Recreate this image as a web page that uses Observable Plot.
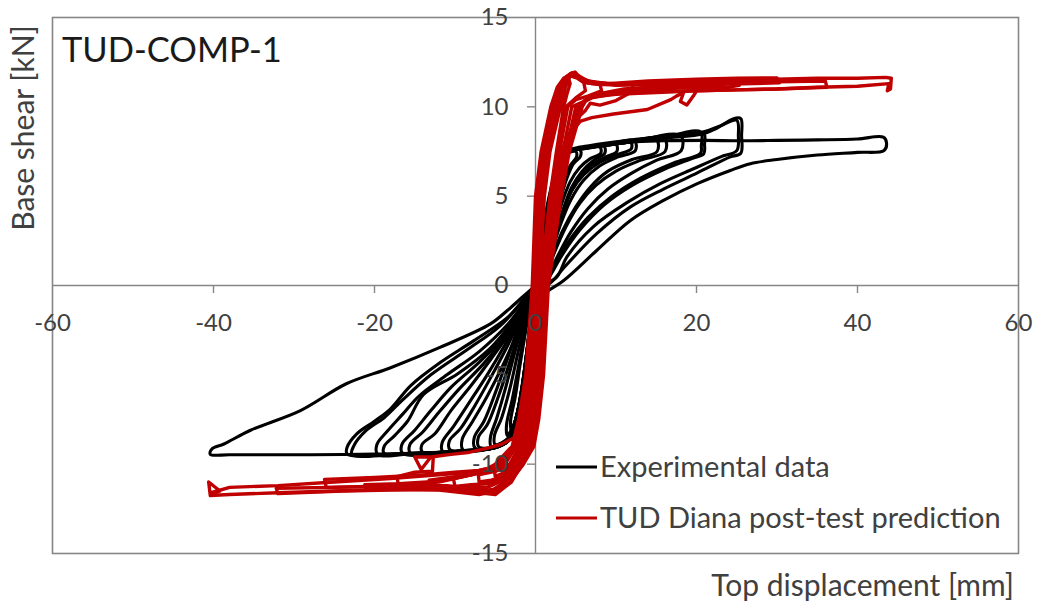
<!DOCTYPE html>
<html><head><meta charset="utf-8">
<script src="https://cdn.jsdelivr.net/npm/d3@7"></script>
<script src="https://cdn.jsdelivr.net/npm/@observablehq/plot@0.6"></script>
<style>
html,body{margin:0;padding:0;background:#fff}
#chart{width:1037px;height:607px}
</style>
</head><body><div id="chart"></div>
<script>
// ---- tick values
const xTicks = [-60, -40, -20, 0, 20, 40, 60];
const yTicks = [-15, -10, -5, 0, 5, 10, 15];

// ---- series
const seriesNames = ["Experimental data", "TUD Diana post-test prediction"];
const seriesColors = ["#000000", "#c00000"];

// ---- experimental cycles [top displacement mm, base shear kN]
const expA1 = [[0,0],[0.5,1.8],[1.1,3.6],[1.8,5.2],[2.5,6.3],[2.8,6.0],[2.3,4.5],[1.6,2.8],[0.9,1.2],[0.3,0],[-0.3,-1.4],[-0.8,-3.3],[-1.4,-5.3],[-2.1,-7.0],[-3,-8.1],[-3.1,-7.6],[-2.5,-6.2],[-1.9,-4.4],[-1.2,-2.5],[-0.6,-1],[0,0]];
const expA2 = [[0,0],[0.6,2],[1.3,3.9],[2,5.5],[2.8,6.6],[3.1,6.3],[2.5,4.8],[1.8,3.0],[1.0,1.3],[0.4,0.1],[-0.3,-1.5],[-0.9,-3.5],[-1.5,-5.5],[-2.3,-7.3],[-3.5,-8.4],[-3.6,-7.8],[-2.9,-6.4],[-2.1,-4.5],[-1.4,-2.7],[-0.7,-1.1],[0,0]];
const expB1 = [[0,0],[0.6,2],[1.4,4],[2.3,5.8],[3.2,7.0],[4,7.4],[5,7.5],[5.1,7.2],[4.3,6.7],[3.5,5.9],[2.8,4.7],[2.1,3.2],[1.4,1.7],[0.7,0.4],[0.3,0],[-0.4,-1.6],[-0.9,-3.6],[-1.5,-5.6],[-2.3,-7.3],[-3.3,-8.5],[-5,-8.9],[-5.1,-8.4],[-4.2,-7.4],[-3.2,-5.8],[-2.2,-3.8],[-1.3,-2],[-0.6,-0.7],[0,0]];
const expB2 = [[0,0],[0.7,2.1],[1.5,4.1],[2.4,5.9],[3.3,7.1],[4.1,7.5],[5.5,7.6],[5.6,7.25],[4.7,6.8],[3.9,6.0],[3.1,4.8],[2.4,3.3],[1.6,1.8],[0.8,0.4],[0.4,-0.2],[-0.4,-1.7],[-1.0,-3.7],[-1.6,-5.7],[-2.4,-7.4],[-3.4,-8.6],[-5.5,-9.0],[-5.6,-8.5],[-4.8,-7.4],[-3.7,-5.7],[-2.6,-3.8],[-1.5,-2],[-0.7,-0.7],[0,0]];
const expC1 = [[0,0],[0.6,2],[1.4,4],[2.3,5.9],[3.2,7.1],[4,7.5],[6,7.65],[8,7.75],[8.1,7.4],[6.8,7.1],[5.5,6.6],[4.3,5.8],[3.2,4.5],[2.3,3.0],[1.4,1.4],[0.6,0.2],[0.3,-0.2],[-0.4,-1.7],[-1,-3.7],[-1.6,-5.7],[-2.3,-7.3],[-3.3,-8.6],[-5,-9.0],[-7,-9.05],[-7.1,-8.5],[-6,-7.8],[-4.6,-6.2],[-3.2,-4.3],[-2,-2.5],[-1,-1.1],[0,0]];
const expC2 = [[0,0],[0.7,2.1],[1.5,4.1],[2.4,6],[3.3,7.2],[4.1,7.55],[6,7.7],[8.5,7.8],[8.6,7.4],[7.2,7.0],[5.8,6.4],[4.5,5.5],[3.4,4.2],[2.4,2.7],[1.5,1.2],[0.7,0.1],[0.4,-0.2],[-0.5,-1.8],[-1.1,-3.8],[-1.7,-5.8],[-2.4,-7.4],[-3.4,-8.7],[-5.2,-9.05],[-7.5,-9.1],[-7.6,-8.5],[-6.4,-7.6],[-4.9,-5.9],[-3.4,-4.0],[-2.1,-2.3],[-1,-1],[0,0]];
const expX1 = [[0,0],[0.6,2],[1.4,4],[2.3,5.9],[3.2,7.1],[4,7.5],[7,7.75],[10,7.9],[10.1,7.5],[8.5,7.15],[6.8,6.7],[5.2,5.9],[3.9,4.7],[2.8,3.2],[1.8,1.7],[0.8,0.3],[0.3,-0.2],[-0.4,-1.7],[-1,-3.7],[-1.6,-5.7],[-2.3,-7.3],[-3.3,-8.6],[-5,-9.05],[-9,-9.2],[-9.1,-8.6],[-7.8,-7.6],[-6,-6.2],[-4.2,-4.6],[-2.6,-3.0],[-1.3,-1.4],[0,0]];
const expD1 = [[0,0],[0.6,2],[1.4,4],[2.3,5.9],[3.2,7.1],[3.9,7.47],[6,7.65],[9,7.85],[11.8,8.03],[11.9,7.65],[10,7.3],[8,6.9],[6,6.2],[4.5,5.3],[3.3,4.0],[2.3,2.5],[1.2,0.8],[0.4,-0.2],[-0.4,-1.7],[-1,-3.7],[-1.6,-5.6],[-2.3,-7.3],[-3.3,-8.6],[-5,-9.05],[-8,-9.2],[-10.6,-9.2],[-10.7,-8.7],[-9.3,-8.0],[-7.5,-6.7],[-5.5,-5.1],[-3.5,-3.4],[-1.8,-1.8],[-0.8,-0.8],[0,0]];
const expD2 = [[0,0],[0.7,2.1],[1.5,4.1],[2.4,6],[3.3,7.2],[4,7.5],[6,7.7],[9,7.9],[12.3,8.1],[12.4,7.55],[10,7.15],[8,6.7],[6,5.9],[4.4,4.8],[3.1,3.4],[2,1.9],[0.9,0.4],[0.5,-0.2],[-0.5,-1.8],[-1.1,-3.8],[-1.7,-5.7],[-2.4,-7.4],[-3.4,-8.7],[-5.2,-9.1],[-8.5,-9.25],[-11.5,-9.3],[-11.6,-8.8],[-10.2,-7.9],[-8.3,-6.6],[-6,-5.0],[-3.9,-3.4],[-2,-1.8],[-0.8,-0.7],[0,0]];
const expE1 = [[0,0],[0.6,2],[1.4,4],[2.3,5.9],[3.2,7.1],[3.9,7.47],[7,7.75],[11.8,8.03],[16,8.25],[16.1,7.5],[13,7.0],[10,6.4],[7.5,5.6],[5.5,4.6],[3.8,3.3],[2.4,1.9],[1.2,0.5],[0.4,-0.2],[-0.4,-1.7],[-1,-3.7],[-1.6,-5.7],[-2.3,-7.3],[-3.3,-8.6],[-5,-9.05],[-9,-9.25],[-14,-9.35],[-14.1,-8.9],[-12.5,-8.3],[-10.5,-7.0],[-8,-5.6],[-5.5,-4.1],[-3,-2.5],[-1.2,-1.0],[0,0]];
const expE2 = [[0,0],[0.7,2.1],[1.5,4.1],[2.4,6],[3.3,7.2],[4,7.5],[7,7.8],[11,8.0],[15,8.2],[15.1,7.5],[12,7.05],[9,6.4],[6.8,5.5],[5,4.4],[3.4,3.1],[2.2,1.8],[1.0,0.5],[0.5,-0.1],[-0.5,-1.8],[-1.1,-3.8],[-1.7,-5.8],[-2.4,-7.4],[-3.4,-8.7],[-5.2,-9.1],[-10,-9.3],[-15.5,-9.4],[-15.6,-8.9],[-14,-8.2],[-12,-7.1],[-9.5,-5.8],[-6.5,-4.4],[-3.8,-2.9],[-1.6,-1.3],[0,0]];
const expX2 = [[0,0],[0.6,2],[1.4,4],[2.3,5.9],[3.2,7.1],[3.9,7.47],[7,7.75],[12,8.05],[18,8.4],[18.1,7.55],[15,7.0],[12,6.3],[9,5.4],[6.5,4.3],[4.4,3.0],[2.7,1.6],[1.3,0.3],[0.4,-0.2],[-0.4,-1.7],[-1,-3.7],[-1.6,-5.7],[-2.3,-7.3],[-3.3,-8.6],[-5,-9.05],[-10,-9.3],[-16.5,-9.4],[-16.6,-8.9],[-15,-8.1],[-13,-7.0],[-10.5,-5.7],[-7,-4.3],[-4,-2.9],[-1.8,-1.3],[0,0]];
const expF1 = [[0,0],[0.6,2],[1.4,4],[2.3,5.9],[3.2,7.1],[3.9,7.47],[7,7.75],[11.8,8.03],[16,8.25],[20.9,8.5],[21,7.9],[20.9,7.37],[19.7,7.15],[16,6.5],[12,5.6],[8.5,4.5],[5.5,3.1],[3.3,1.7],[1.6,0.4],[0.5,-0.2],[-0.4,-1.7],[-1,-3.7],[-1.6,-5.7],[-2.3,-7.3],[-3.3,-8.6],[-5,-9.05],[-10,-9.3],[-15,-9.4],[-18.8,-9.4],[-18.8,-9.0],[-17.5,-8.4],[-15.9,-7.6],[-13.9,-6.1],[-9.7,-4.95],[-5.6,-3.5],[-3,-2.1],[-1.3,-0.9],[0,0]];
const expF2 = [[0,0],[0.7,2.1],[1.5,4.1],[2.4,6],[3.3,7.2],[4,7.5],[7,7.8],[12,8.1],[16,8.3],[20.5,8.6],[20.6,7.8],[20.5,7.4],[17.1,6.85],[13,6.0],[9.5,5.0],[6.5,3.8],[4,2.4],[2.2,1.1],[0.9,0.1],[0.4,-0.2],[-0.5,-1.8],[-1.1,-3.8],[-1.7,-5.8],[-2.4,-7.4],[-3.4,-8.7],[-5.2,-9.1],[-10,-9.3],[-15,-9.4],[-19.6,-9.45],[-19.7,-8.9],[-18.5,-8.2],[-16.5,-7.2],[-14.5,-6.2],[-11,-5.0],[-7,-3.7],[-3.5,-2.2],[-1.3,-0.9],[0,0]];
const expG1 = [[0,0],[0.6,2],[1.4,4],[2.3,5.9],[3.2,7.1],[3.9,7.47],[7,7.75],[11.8,8.03],[16,8.25],[20.9,8.5],[22.5,8.8],[24.6,9.34],[25.5,9.34],[25.6,8.4],[25.5,7.4],[24.2,7.2],[20.1,6.3],[15.9,5.4],[11.8,4.4],[7.6,2.9],[3.5,0.98],[2,0.2],[0.5,-0.3],[-0.4,-1.7],[-1,-3.7],[-1.6,-5.7],[-2.3,-7.3],[-3.3,-8.6],[-5,-9.05],[-10,-9.3],[-16,-9.4],[-23.4,-9.43],[-23.4,-9.05],[-22.2,-8.3],[-20,-7.6],[-18,-6.9],[-15.5,-5.6],[-11.8,-4.3],[-7.7,-3.1],[-3.5,-1.8],[-1.5,-0.8],[0,0]];
const expG2 = [[0,0],[0.7,2.1],[1.5,4.1],[2.4,6],[3.3,7.2],[4,7.55],[7,7.85],[12,8.15],[16,8.35],[20.9,8.6],[23,8.95],[25,9.25],[25.2,8.4],[25,7.55],[23,7.2],[19.7,6.55],[15.5,5.7],[11.4,4.65],[7.2,3.3],[3.9,1.6],[2.7,0.5],[0.6,-0.2],[-0.5,-1.8],[-1.1,-3.8],[-1.7,-5.8],[-2.4,-7.4],[-3.4,-8.7],[-5.2,-9.1],[-10,-9.3],[-16,-9.4],[-22.8,-9.45],[-22.6,-9.0],[-21,-8.1],[-18.8,-7.4],[-16.5,-6.4],[-13,-5.0],[-8.5,-3.6],[-4.5,-2.3],[-1.8,-1.0],[0,0]];
const expH = [[0,0],[0.6,2],[1.4,4],[2.3,5.9],[3.2,7.1],[3.9,7.47],[7,7.75],[11.8,8.03],[16,8.1],[20.9,8.12],[25.5,8.1],[30,8.12],[35,8.15],[40,8.2],[43.2,8.3],[43.6,8.0],[43.3,7.56],[40,7.45],[35,7.3],[30,7.05],[26.7,6.82],[24.2,6.44],[20.1,5.7],[15.9,4.76],[11.8,3.64],[7.6,1.96],[3.5,0.28],[1.5,-0.3],[0.3,-0.6],[-0.4,-1.7],[-1,-3.7],[-1.6,-5.7],[-2.3,-7.3],[-3.3,-8.6],[-5,-9.05],[-10,-9.3],[-20,-9.43],[-30,-9.47],[-38,-9.47],[-40.4,-9.45],[-40.2,-9.15],[-38.7,-8.87],[-35.4,-8.1],[-29.2,-7.0],[-23.5,-5.5],[-18,-4.6],[-11.8,-3.45],[-5.6,-2.15],[-3.5,-1.4],[-1.5,-0.6],[0,0]];

// ---- numerical (TUD Diana) cycles [top displacement mm, base shear kN]
const numA = [[0.6,0],[0.8,2.5],[1.1,5],[1.8,7.5],[3.1,10],[3.7,11.1],[4.1,11.6],[4.3,11.3],[3.9,10.7],[3.5,10],[2.6,7.5],[1.8,5],[1.2,2.5],[0.5,0],[0.2,-2.5],[-0.2,-5],[-0.8,-7.5],[-1.5,-9],[-3,-10],[-3.5,-10.3],[-3.6,-10.1],[-2,-10],[-1.2,-9],[-0.5,-7.5],[0,-5],[0.3,-2.5],[0.6,0]];
const numB = [[0.5,0],[0.7,2.5],[0.95,5],[1.7,7.5],[3.0,10],[3.6,11.1],[4.3,11.75],[5.2,11.6],[6,11.35],[6.2,10.9],[5,10.5],[3.8,10],[2.8,7.5],[2.0,5],[1.35,2.5],[0.65,0],[0.35,-2.5],[-0.05,-5],[-0.65,-7.5],[-1.35,-9],[-2.8,-10],[-4,-10.5],[-5,-10.7],[-5.1,-10.3],[-3.5,-10.1],[-2.3,-10],[-1.4,-9],[-0.65,-7.5],[-0.15,-5],[0.2,-2.5],[0.5,0]];
const numC = [[0.35,0],[0.55,2.5],[0.85,5],[1.55,7.5],[2.85,10],[3.5,11.1],[4.4,11.8],[5.3,11.65],[6.5,11.35],[8,11.3],[8.2,10.9],[6.5,10.6],[5,10.4],[4.0,10],[3.0,7.5],[2.15,5],[1.5,2.5],[0.8,0],[0.5,-2.5],[0.1,-5],[-0.5,-7.5],[-1.2,-9],[-2.6,-10],[-4,-10.7],[-5.5,-10.9],[-7,-11],[-7.1,-10.6],[-5,-10.4],[-2.6,-10],[-1.6,-9],[-0.85,-7.5],[-0.3,-5],[0.05,-2.5],[0.35,0]];
const numD = [[0.25,0],[0.45,2.5],[0.7,5],[1.45,7.5],[2.7,10],[3.4,11.1],[4.5,11.85],[5.3,11.7],[6.3,11.35],[8,11.25],[10,11.25],[12,11.35],[12.2,10.9],[10,10.35],[8,10.1],[6.8,10.2],[6.2,9.8],[5.5,9.5],[4.3,8.6],[3.2,7.5],[2.3,5],[1.6,2.5],[0.9,0],[0.6,-2.5],[0.25,-5],[-0.35,-7.5],[-1.05,-9],[-2.4,-10],[-4,-10.8],[-6,-11.1],[-8,-11.15],[-10,-11.25],[-10.2,-10.8],[-8,-10.6],[-5,-10.3],[-2.9,-10],[-1.8,-9],[-1.0,-7.5],[-0.4,-5],[-0.05,-2.5],[0.25,0]];
const numE = [[0.1,0],[0.35,2.5],[0.6,5],[1.3,7.5],[2.6,10],[3.3,11.1],[4.2,11.7],[4.9,11.85],[5.6,11.55],[7,11.3],[10,11.25],[13,11.35],[16,11.45],[16.2,11],[13,10.85],[10,10.75],[7,10.5],[5.5,10.2],[4.5,10],[3.4,7.5],[2.45,5],[1.75,2.5],[1.0,0],[0.75,-2.5],[0.4,-5],[-0.2,-7.5],[-0.9,-9],[-2.2,-10],[-4,-10.9],[-6,-11.3],[-9,-11.3],[-13,-11.4],[-13.2,-10.9],[-10,-10.7],[-7,-10.5],[-4.5,-10.2],[-3.2,-10],[-2.0,-9],[-1.2,-7.5],[-0.55,-5],[-0.2,-2.5],[0.1,0]];
const numF = [[0,0],[0.25,2.5],[0.5,5],[1.2,7.5],[2.45,10],[3.2,11.1],[4.2,11.75],[5.2,11.65],[6.5,11.35],[9,11.25],[12,11.3],[16,11.45],[20,11.5],[20.3,11.1],[19.6,10.6],[18.8,10.1],[18,10.3],[18.4,10.8],[17.5,10.6],[16.8,10.4],[13.9,9.85],[9.7,9.6],[7,9.4],[5.6,9.2],[4.8,8.8],[4.3,8.3],[3.6,7.5],[2.6,5],[1.9,2.5],[1.1,0],[0.85,-2.5],[0.5,-5],[-0.05,-7.5],[-0.8,-9],[-2.0,-10],[-3.5,-10.9],[-5.5,-11.5],[-8,-11.4],[-11,-11.2],[-14,-11.2],[-17,-11.3],[-17.2,-10.7],[-15,-10.45],[-12.8,-10.4],[-12.7,-9.6],[-15,-9.6],[-14.2,-10.3],[-13,-9.6],[-10.5,-9.45],[-8.4,-9.35],[-6,-9.1],[-4.3,-8.9],[-3,-8.6],[-2.2,-8.4],[-1.35,-7.5],[-0.7,-5],[-0.3,-2.5],[0,0]];
const numG = [[-0.1,0],[0.1,2.5],[0.35,5],[1.05,7.5],[2.3,10],[3.0,11.1],[3.9,11.7],[4.7,11.9],[5.5,11.6],[7,11.35],[10,11.3],[15,11.35],[20,11.4],[25,11.45],[25.3,11.2],[24,11.1],[18,11.05],[12,10.95],[8,10.75],[6.2,10.35],[5.0,10],[3.75,7.5],[2.75,5],[2.0,2.5],[1.2,0],[0.95,-2.5],[0.6,-5],[0.05,-7.5],[-0.65,-9],[-1.9,-10],[-3.5,-11],[-5.5,-11.6],[-7.5,-11.5],[-12,-11.3],[-17,-11.35],[-21,-11.45],[-21.2,-11.15],[-17,-11.1],[-12,-10.95],[-8,-10.6],[-5.5,-10.2],[-3.8,-10],[-2.35,-9],[-1.5,-7.5],[-0.8,-5],[-0.45,-2.5],[-0.1,0]];
const numH = [[-0.2,0],[0,2.5],[0.25,5],[0.95,7.5],[2.15,10],[2.9,11.1],[3.8,11.65],[4.5,11.9],[5.3,11.75],[6.5,11.45],[9,11.3],[14,11.45],[20,11.55],[25,11.6],[30,11.62],[30.3,11.35],[27,11.3],[22,11.25],[16,11.15],[11,11.0],[7.5,10.7],[6,10.3],[5.3,10],[3.9,7.5],[2.9,5],[2.15,2.5],[1.3,0],[1.05,-2.5],[0.75,-5],[0.2,-7.5],[-0.5,-9],[-1.7,-10],[-3,-11],[-5,-11.7],[-7,-11.6],[-10,-11.25],[-15,-11.2],[-20,-11.25],[-26,-11.3],[-26.2,-10.85],[-20,-10.75],[-14,-10.6],[-10,-10.45],[-7,-10.35],[-5.5,-10.2],[-4.2,-10],[-2.5,-9],[-1.7,-7.5],[-0.95,-5],[-0.55,-2.5],[-0.2,0]];
const numI = [[-0.3,0],[-0.1,2.5],[0.1,5],[0.8,7.5],[2.0,10],[2.8,11.1],[3.6,11.6],[4.3,11.85],[4.9,11.95],[5.6,11.6],[7,11.4],[10,11.2],[15,11.25],[20,11.3],[25,11.35],[30,11.4],[36,11.45],[36.2,11.1],[30,11.0],[25,10.95],[20,10.9],[15,10.85],[10,10.75],[7,10.6],[6,10.3],[5.5,10],[4.05,7.5],[3.05,5],[2.25,2.5],[1.45,0],[1.2,-2.5],[0.9,-5],[0.3,-7.5],[-0.35,-9],[-1.6,-10],[-3,-10.9],[-5,-11.4],[-7,-11.5],[-12,-11.4],[-18,-11.45],[-24,-11.5],[-32,-11.65],[-32.2,-11.35],[-25,-11.3],[-18,-11.2],[-12,-11.0],[-8,-10.6],[-6,-10.3],[-4.6,-10],[-2.7,-9],[-1.9,-7.5],[-1.1,-5],[-0.7,-2.5],[-0.3,0]];
const numJ = [[-0.4,0],[-0.2,2.5],[0,5],[0.7,7.5],[1.9,10],[2.7,11.1],[3.5,11.6],[4.3,11.8],[5.2,11.7],[6.5,11.4],[10,11.25],[15,11.35],[20,11.45],[25,11.5],[30,11.55],[35,11.6],[40,11.6],[43.5,11.65],[44.2,11.6],[44.1,11.0],[43.7,10.9],[43.9,11.3],[40,11.15],[35,11.1],[30,11.0],[25,10.95],[20,10.9],[15,10.8],[10,10.7],[7,10.55],[6.2,10.3],[5.8,10],[4.2,7.5],[3.2,5],[2.4,2.5],[1.6,0],[1.3,-2.5],[1.0,-5],[0.4,-7.5],[-0.2,-9],[-1.5,-10],[-3,-10.9],[-5,-11.5],[-7,-11.7],[-12,-11.45],[-18,-11.4],[-25,-11.5],[-32,-11.6],[-38,-11.7],[-40.4,-11.75],[-40.6,-11.0],[-39.2,-11.5],[-40.3,-11.6],[-38,-11.3],[-32,-11.2],[-25,-11.0],[-18,-10.8],[-12,-10.6],[-8,-10.45],[-6,-10.25],[-5,-10],[-2.9,-9],[-2.1,-7.5],[-1.2,-5],[-0.8,-2.5],[-0.4,0]];

const expCycles = [expA1, expA2, expB1, expB2, expC1, expC2, expX1, expD1, expD2, expE1, expE2, expX2, expF1, expF2, expG1, expG2, expH];
const numCycles = [numA, numB, numC, numD, numE, numF, numG, numH, numI, numJ];

function toRows(cycles, series, tag) {
  return cycles.flatMap((c, k) => c.map(([x, y]) => ({x, y, series, cycle: tag + k})));
}
const expRows = toRows(expCycles, seriesNames[0], "e");
const numRows = toRows(numCycles, seriesNames[1], "n");

const FONT = "Lato, 'Noto Sans', sans-serif";
const AXIS = "#868686";
const TXT = "#404040";

const plot = Plot.plot({
  width: 1037, height: 607,
  marginLeft: 52, marginRight: 19, marginTop: 17, marginBottom: 54,
  style: {fontFamily: FONT, background: "#ffffff", overflow: "visible"},
  x: {domain: [-60, 60], axis: null},
  y: {domain: [-15, 15], axis: null},
  color: {domain: seriesNames, range: seriesColors},
  marks: [
    Plot.ruleY([0], {stroke: AXIS, strokeWidth: 1.4}),
    Plot.ruleX([0], {stroke: AXIS, strokeWidth: 1.4}),
    Plot.ruleX(xTicks.filter(d => d !== 0 && Math.abs(d) !== 60), {x: d => d, y1: 0, y2: 0, insetBottom: -8, stroke: AXIS, strokeWidth: 1.4}),
    Plot.ruleY(yTicks.filter(d => d !== 0 && Math.abs(d) !== 15), {y: d => d, x1: 0, x2: 0, insetLeft: -8, stroke: AXIS, strokeWidth: 1.4}),
    Plot.line(expRows, {x: "x", y: "y", z: "cycle", stroke: "series", strokeWidth: 3.1, strokeLinejoin: "round", curve: "catmull-rom"}),
    Plot.line(numRows, {x: "x", y: "y", z: "cycle", stroke: "series", strokeWidth: 3.4, strokeLinejoin: "round"}),
    Plot.frame({stroke: AXIS, strokeWidth: 1.6}),
    Plot.text(xTicks, {x: d => d, y: 0, dy: 38, text: d => String(d), fontSize: 24, fill: TXT, fontFamily: FONT}),
    Plot.text(yTicks, {x: 0, y: d => d, dx: -27, textAnchor: "end", text: d => String(d), fontSize: 24, fill: TXT, fontFamily: FONT})
  ]
});
document.getElementById("chart").appendChild(plot);

// ---- annotations & legend
const svg = d3.select(plot);
svg.append("text").attr("x", 62).attr("y", 62).attr("text-anchor", "start").attr("font-family", FONT)
  .attr("font-size", 34.5).attr("fill", "#1a1a1a").text("TUD-COMP-1");
svg.append("text").attr("transform", "translate(34,128) rotate(-90)").attr("text-anchor", "middle")
  .attr("font-family", FONT).attr("font-size", 30).attr("fill", TXT).text("Base shear [kN]");
svg.append("text").attr("x", 1014).attr("y", 596).attr("text-anchor", "end")
  .attr("font-family", FONT).attr("font-size", 30).attr("fill", TXT).text("Top displacement [mm]");
const legendY = [467, 518];
seriesNames.forEach((name, i) => {
  svg.append("line").attr("x1", 556).attr("x2", 597).attr("y1", legendY[i]).attr("y2", legendY[i])
    .attr("stroke", seriesColors[i]).attr("stroke-width", 3);
  svg.append("text").attr("x", 600).attr("y", legendY[i]).attr("dy", "0.35em").attr("text-anchor", "start")
    .attr("font-family", FONT).attr("font-size", 29).attr("fill", TXT).text(name);
});
</script>
</body></html>
